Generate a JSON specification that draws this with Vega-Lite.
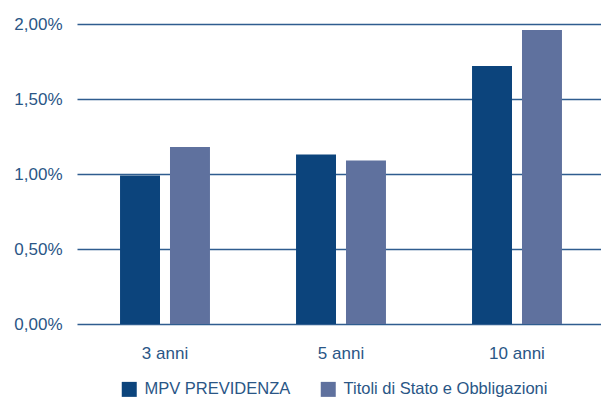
{
  "$schema": "https://vega.github.io/schema/vega-lite/v6.json",
  "autosize": "none",
  "width": 528,
  "height": 300,
  "padding": {"left": 77, "top": 24, "right": 0, "bottom": 76},
  "background": "white",
  "data": {
    "values": [
      {"periodo": "3 anni", "serie": "MPV PREVIDENZA", "valore": 0.0099},
      {"periodo": "3 anni", "serie": "Titoli di Stato e Obbligazioni", "valore": 0.0118},
      {"periodo": "5 anni", "serie": "MPV PREVIDENZA", "valore": 0.0113},
      {"periodo": "5 anni", "serie": "Titoli di Stato e Obbligazioni", "valore": 0.0109},
      {"periodo": "10 anni", "serie": "MPV PREVIDENZA", "valore": 0.0172},
      {"periodo": "10 anni", "serie": "Titoli di Stato e Obbligazioni", "valore": 0.0196}
    ]
  },
  "mark": {"type": "bar"},
  "encoding": {
    "x": {
      "field": "periodo",
      "type": "nominal",
      "sort": ["3 anni", "5 anni", "10 anni"],
      "scale": {"paddingInner": 0.489, "paddingOuter": 0.2445},
      "axis": {
        "title": null,
        "domain": false,
        "ticks": false,
        "labelAngle": 0,
        "labelPadding": 21,
        "labelDx": 5,
        "labelFontSize": 17,
        "labelFont": "Liberation Sans",
        "labelColor": "#2a5686"
      }
    },
    "xOffset": {
      "field": "serie",
      "type": "nominal",
      "scale": {"paddingInner": 0.2, "paddingOuter": 0}
    },
    "y": {
      "field": "valore",
      "type": "quantitative",
      "scale": {"domain": [0, 0.02], "nice": false},
      "axis": {
        "title": null,
        "values": [0, 0.005, 0.01, 0.015, 0.02],
        "labelExpr": "replace(format(datum.value, '.2%'), '.', ',')",
        "domain": false,
        "ticks": false,
        "grid": true,
        "gridColor": "#2f5d8f",
        "gridWidth": 1.3,
        "labelPadding": 15,
        "labelFontSize": 17,
        "labelFont": "Liberation Sans",
        "labelColor": "#2a5686"
      }
    },
    "color": {
      "field": "serie",
      "type": "nominal",
      "scale": {
        "domain": ["MPV PREVIDENZA", "Titoli di Stato e Obbligazioni"],
        "range": ["#0c447c", "#5f719e"]
      },
      "legend": {
        "title": null,
        "orient": "none",
        "legendX": 44,
        "legendY": 357,
        "direction": "horizontal",
        "symbolType": "square",
        "symbolSize": 225,
        "symbolStrokeWidth": 0,
        "labelFontSize": 16.5,
        "labelFont": "Liberation Sans",
        "labelColor": "#2a5686",
        "labelOffset": 7,
        "labelLimit": 400,
        "columnPadding": 29
      }
    }
  },
  "config": {"view": {"stroke": null}}
}
